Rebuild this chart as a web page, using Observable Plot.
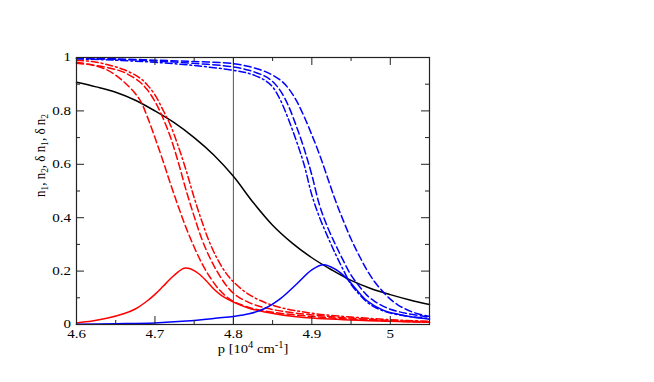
<!DOCTYPE html>
<html><head><meta charset="utf-8">
<script src="https://cdn.jsdelivr.net/npm/d3@7"></script>
<script src="https://cdn.jsdelivr.net/npm/@observablehq/plot@0.6"></script>
<style>html,body{margin:0;padding:0;background:#fff}svg{display:block}</style>
</head><body><div id="chart"></div>
<script>
// ---- data ----
const xDomain = [4.6, 5.05];
const yDomain = [0, 1];
const xMajorTicks = [4.6, 4.7, 4.8, 4.9, 5.0];
const xTickLabels = ["4.6", "4.7", "4.8", "4.9", "5"];
const xMinorTicks = [4.65, 4.75, 4.85, 4.95];
const yMajorTicks = [0, 0.2, 0.4, 0.6, 0.8, 1];
const yTickLabels = ["0", "0.2", "0.4", "0.6", "0.8", "1"];
const yMinorTicks = [0.1, 0.3, 0.5, 0.7, 0.9];
const markerLine = [4.8];

const pBlack = [4.6,4.625,4.65,4.675,4.7,4.725,4.75,4.775,4.8,4.825,4.85,4.875,4.9,4.925,4.95,4.975,5.0,5.025,5.05];
const nBlack = [0.907,0.89,0.87,0.84,0.80,0.755,0.70,0.635,0.555,0.458,0.372,0.305,0.25,0.205,0.165,0.135,0.112,0.092,0.075];

const pRed = [4.6,4.62,4.64,4.66,4.675,4.69,4.7,4.71,4.72,4.73,4.737,4.745,4.755,4.765,4.775,4.785,4.8,4.82,4.84,4.88,4.94,5.0,5.05];
const nRed = [0.006,0.013,0.024,0.04,0.058,0.088,0.113,0.142,0.172,0.198,0.211,0.209,0.192,0.165,0.133,0.108,0.084,0.061,0.047,0.029,0.018,0.012,0.008];

const pRedD = [4.6,4.62,4.64,4.66,4.68,4.69,4.7,4.71,4.72,4.73,4.74,4.75,4.76,4.77,4.78,4.79,4.8,4.82,4.85,4.9,4.95,5.0,5.05];
const nRedA = [0.982,0.972,0.952,0.91,0.845,0.78,0.7,0.615,0.525,0.44,0.36,0.29,0.228,0.178,0.137,0.107,0.087,0.064,0.046,0.03,0.02,0.013,0.008];
const nRedB = [0.978,0.972,0.962,0.945,0.91,0.88,0.835,0.775,0.7,0.605,0.5,0.405,0.318,0.25,0.195,0.15,0.117,0.082,0.056,0.036,0.024,0.015,0.01];
const nRedC = [0.99,0.985,0.973,0.955,0.925,0.898,0.86,0.805,0.745,0.665,0.575,0.475,0.385,0.305,0.243,0.195,0.16,0.112,0.072,0.042,0.028,0.018,0.012];

const pBlue = [4.6,4.65,4.7,4.74,4.78,4.8,4.82,4.84,4.86,4.88,4.9,4.915,4.93,4.945,4.957,4.97,4.99,5.01,5.03,5.05];
const nBlue = [0.001,0.003,0.006,0.013,0.024,0.03,0.04,0.06,0.097,0.15,0.205,0.224,0.207,0.171,0.13,0.09,0.055,0.038,0.027,0.02];

const pBlueR = [4.6,4.65,4.7,4.75,4.8,4.82,4.84,4.86,4.87,4.88,4.89,4.9,4.91,4.92,4.93,4.94,4.95,4.96,4.97,4.98,4.99,5.0,5.01,5.02,5.035,5.05];
const nBlueR = [0.998,0.995,0.99,0.985,0.977,0.966,0.948,0.915,0.885,0.84,0.78,0.71,0.635,0.55,0.465,0.39,0.32,0.26,0.205,0.16,0.125,0.095,0.073,0.057,0.04,0.03];

const pBlueD = [4.6,4.65,4.7,4.75,4.8,4.82,4.84,4.85,4.86,4.87,4.88,4.89,4.9,4.91,4.92,4.93,4.94,4.95,4.96,4.97,4.98,4.99,5.0,5.02,5.05];
const nBlueM = [0.996,0.993,0.987,0.978,0.965,0.952,0.93,0.91,0.875,0.82,0.745,0.66,0.56,0.445,0.365,0.3,0.24,0.185,0.145,0.11,0.087,0.07,0.057,0.042,0.028];
const nBlueL = [0.995,0.99,0.982,0.97,0.952,0.94,0.915,0.89,0.84,0.77,0.69,0.6,0.485,0.4,0.33,0.265,0.205,0.15,0.115,0.085,0.065,0.052,0.043,0.032,0.022];

const yLabelParts = [["n",""],["1","sub"],[", n",""],["2","sub"],[", δ n",""],["1","sub"],[", δ n",""],["2","sub"]];
const xLabelParts = [["p [10",""],["4","sup"],[" cm",""],["-1","sup"],["]",""]];

// ---- layout ----
const W = 654, H = 382, mL = 76, mR = 225, mT = 57, mB = 58;
const fw = W - mL - mR, fh = H - mT - mB;
const FONT = "'Liberation Serif','Times New Roman',serif";

const rows = (ps, vs) => ps.map((p, i) => ({p, v: vs[i]}));
const DASH = "7,3.5";
const DASHDOT = "7,3,1.8,3";

const lineMark = (ps, vs, stroke, dash) =>
  Plot.line(rows(ps, vs), {x: "p", y: "v", stroke, strokeWidth: 1.5, strokeDasharray: dash, curve: "catmull-rom"});

const tickColor = "#222";
const chart = Plot.plot({
  width: W, height: H,
  marginLeft: mL, marginRight: mR, marginTop: mT, marginBottom: mB,
  style: {fontFamily: FONT, background: "#fff", overflow: "visible"},
  x: {domain: xDomain, axis: null},
  y: {domain: yDomain, axis: null},
  marks: [
    Plot.ruleX(markerLine, {stroke: "#555", strokeWidth: 1}),
    lineMark(pBlack, nBlack, "#000", null),
    lineMark(pRed, nRed, "#ff0000", null),
    lineMark(pRedD, nRedA, "#ff0000", DASH),
    lineMark(pRedD, nRedB, "#ff0000", DASH),
    lineMark(pRedD, nRedC, "#ff0000", DASHDOT),
    lineMark(pBlue, nBlue, "#0000ff", null),
    lineMark(pBlueR, nBlueR, "#0000ff", DASH),
    lineMark(pBlueD, nBlueM, "#0000ff", DASH),
    lineMark(pBlueD, nBlueL, "#0000ff", DASHDOT),
    // inward ticks on all four sides
    Plot.ruleX(xMajorTicks, {insetTop: fh - 8, stroke: tickColor}),
    Plot.ruleX(xMajorTicks, {insetBottom: fh - 8, stroke: tickColor}),
    Plot.ruleX(xMinorTicks, {insetTop: fh - 4, stroke: tickColor}),
    Plot.ruleX(xMinorTicks, {insetBottom: fh - 4, stroke: tickColor}),
    Plot.ruleY(yMajorTicks, {insetRight: fw - 8, stroke: tickColor}),
    Plot.ruleY(yMajorTicks, {insetLeft: fw - 8, stroke: tickColor}),
    Plot.ruleY(yMinorTicks, {insetRight: fw - 4, stroke: tickColor}),
    Plot.ruleY(yMinorTicks, {insetLeft: fw - 4, stroke: tickColor}),
    Plot.frame({stroke: "#222", strokeWidth: 1.2}),
    Plot.text(xMajorTicks, {x: d => d, text: (d, i) => xTickLabels[i], frameAnchor: "bottom", dy: 13.5, lineAnchor: "bottom", fontSize: 12, fill: "#000", ariaLabel: () => "xticklabels"}),
    Plot.text(yMajorTicks, {y: d => d, text: (d, i) => yTickLabels[i], frameAnchor: "left", dx: -5.5, textAnchor: "end", lineAnchor: "middle", fontSize: 12, fill: "#000", ariaLabel: () => "yticklabels"}),
    Plot.text(["xlabel"], {frameAnchor: "bottom", dy: 28, lineAnchor: "bottom", fontSize: 13, fill: "#000", text: d => xLabelParts.map(p => p[0]).join(""), ariaLabel: () => "xlabel"}),
    Plot.text(["ylabel"], {frameAnchor: "left", dx: -32, dy: 6, rotate: -90, lineAnchor: "bottom", fontSize: 13, fill: "#000", text: d => yLabelParts.map(p => p[0]).join(""), ariaLabel: () => "ylabel"})
  ]
});
document.getElementById("chart").appendChild(chart);

// ---- text post-processing: sub/superscripts and horizontal stretch ----
const svg = d3.select(chart);
function setParts(el, parts, fs) {
  const t = d3.select(el);
  t.text(null);
  let shift = 0;
  for (const [s, kind] of parts) {
    const target = kind === "sub" ? 3 : kind === "sup" ? -5 : 0;
    const ts = t.append("tspan").text(s).attr("dy", target - shift);
    if (kind) ts.attr("font-size", fs * 0.72);
    shift = target;
  }
}
function stretch(sel, sx, sy) {
  sel.each(function () {
    let tr = this.getAttribute("transform") || "";
    const x = this.getAttribute("x"), y = this.getAttribute("y");
    if (!tr && (x != null || y != null)) {
      const X = +x || 0, Y = +y || 0;
      tr = `translate(${X},${Y}) scale(${sx},${sy}) translate(${-X},${-Y})`;
    } else {
      tr = tr + ` scale(${sx},${sy})`;
    }
    this.setAttribute("transform", tr);
  });
}
const pick = (name) => svg.selectAll("text").filter(function () {
  return this.getAttribute("aria-label") === name || (this.parentNode && this.parentNode.getAttribute && this.parentNode.getAttribute("aria-label") === name);
});
pick("xlabel").each(function () { setParts(this, xLabelParts, 13); });
pick("ylabel").each(function () { setParts(this, yLabelParts, 13); });
stretch(pick("xticklabels"), 1.25, 1);
stretch(pick("yticklabels"), 1.25, 1);
stretch(pick("xlabel"), 1.12, 1);
stretch(pick("ylabel"), 1, 1.1);
</script>
</body></html>
